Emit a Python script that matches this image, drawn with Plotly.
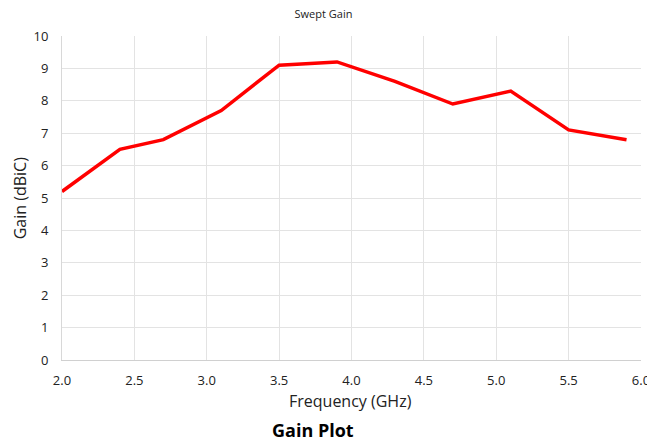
import plotly.graph_objects as go

freq_ghz = [2.0, 2.4, 2.7, 3.1, 3.5, 3.9, 4.3, 4.7, 5.1, 5.5, 5.9]
gain_dbic = [5.2, 6.5, 6.8, 7.7, 9.1, 9.2, 8.6, 7.9, 8.3, 7.1, 6.8]
x_ticks = [2.0, 2.5, 3.0, 3.5, 4.0, 4.5, 5.0, 5.5, 6.0]
y_ticks = list(range(0, 11))

font_family = "Open Sans, Liberation Sans, sans-serif"

fig = go.Figure()
fig.add_trace(go.Scatter(
    x=freq_ghz, y=gain_dbic, mode="lines",
    line=dict(color="#ff0000", width=3.5),
    showlegend=False, cliponaxis=False,
))

fig.update_layout(
    width=647, height=441,
    margin=dict(l=62, r=6, t=36, b=81, autoexpand=False),
    paper_bgcolor="white", plot_bgcolor="white",
    font=dict(family=font_family, color="#000000", size=13),
    title=dict(text="Swept Gain", x=0.5, xanchor="center", y=0.968, yanchor="middle",
               font=dict(size=11, color="#222222")),
    xaxis=dict(
        range=[2.0, 6.0], tickvals=x_ticks, ticktext=[f"{v:.1f}" for v in x_ticks],
        showgrid=True, gridcolor="#e3e3e3", gridwidth=1,
        showline=True, linecolor="#d0d0d0", linewidth=1,
        zeroline=False, ticks="outside", ticklen=8, tickcolor="rgba(0,0,0,0)",
        automargin=False, ticklabeloverflow="allow",
        tickfont=dict(size=13, color="#222222"),
    ),
    yaxis=dict(
        range=[0, 10], tickvals=y_ticks,
        showgrid=True, gridcolor="#e3e3e3", gridwidth=1,
        showline=True, linecolor="#d8d8d8", linewidth=1,
        zeroline=False, ticks="outside", ticklen=10, tickcolor="rgba(0,0,0,0)",
        automargin=False,
        tickfont=dict(size=13, color="#222222"),
    ),
    annotations=[
        dict(text="Frequency (GHz)", xref="paper", yref="paper",
             x=0.499, y=-0.127, xanchor="center", yanchor="middle", showarrow=False,
             font=dict(size=16, color="#222222")),
        dict(text="Gain (dBiC)", xref="paper", yref="paper", textangle=-90,
             x=-0.072, y=0.5, xanchor="center", yanchor="middle", showarrow=False,
             font=dict(size=16, color="#222222")),
        dict(text="<b>Gain Plot</b>", xref="paper", yref="paper",
             x=0.434, y=-0.216, xanchor="center", yanchor="middle", showarrow=False,
             font=dict(size=18, color="#000000")),
    ],
)

fig.write_html(
    "out.html",
    config={"displayModeBar": False},
    post_script="document.body.style.margin='0';document.body.style.overflow='hidden';",
)
